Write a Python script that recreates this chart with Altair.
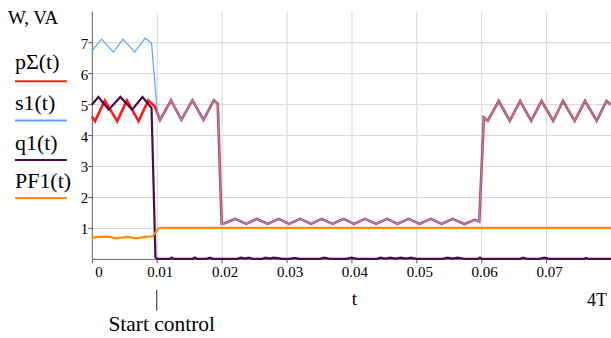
import altair as alt
import pandas as pd

# ---------------- data ----------------
p_t = [0.0000, 0.0005, 0.0020, 0.0039, 0.0054, 0.0072, 0.0087, 0.0097, 0.0105, 0.0122,
       0.0138, 0.0155, 0.0172, 0.0188, 0.0194, 0.0200, 0.0204, 0.0221, 0.0238, 0.0254,
       0.0271, 0.0288, 0.0304, 0.0321, 0.0338, 0.0354, 0.0371, 0.0388, 0.0404, 0.0421,
       0.0438, 0.0455, 0.0471, 0.0488, 0.0505, 0.0522, 0.0539, 0.0556, 0.0574, 0.0590,
       0.0597, 0.0604, 0.0610, 0.0627, 0.0644, 0.0660, 0.0677, 0.0693, 0.0711, 0.0726,
       0.0744, 0.0760, 0.0778, 0.0793, 0.0800]
p_v = [4.60, 4.45, 5.12, 4.45, 5.12, 4.45, 5.12, 4.92, 4.49, 5.12,
       4.49, 5.12, 4.49, 5.12, 5.01, 1.14, 1.14, 1.29, 1.13, 1.29,
       1.13, 1.29, 1.13, 1.29, 1.13, 1.29, 1.13, 1.29, 1.13, 1.29,
       1.13, 1.29, 1.13, 1.29, 1.13, 1.29, 1.13, 1.29, 1.12, 1.26,
       1.21, 4.56, 4.46, 5.10, 4.46, 5.10, 4.46, 5.10, 4.46, 5.10,
       4.46, 5.10, 4.46, 5.10, 4.98]

s1_t_head = [0.0000, 0.0015, 0.0033, 0.0048, 0.0066, 0.0082, 0.0092, 0.0101]
s1_v_head = [6.72, 7.10, 6.68, 7.10, 6.68, 7.13, 6.97, 4.70]

q1_t = [0.0000, 0.0010, 0.0026, 0.0044, 0.0062, 0.0078, 0.0092, 0.0098, 0.0101,
        0.0120, 0.0123, 0.0126, 0.0155, 0.0159, 0.0162, 0.0177, 0.0182, 0.0187,
        0.0224, 0.0230, 0.0236, 0.0242, 0.0248, 0.0262, 0.0268, 0.0274, 0.0280,
        0.0294, 0.0305, 0.0312, 0.0320, 0.0351, 0.0358, 0.0365, 0.0372, 0.0392,
        0.0400, 0.0408, 0.0439, 0.0445, 0.0452, 0.0460, 0.0468, 0.0476, 0.0484,
        0.0492, 0.0500, 0.0540, 0.0548, 0.0556, 0.0564, 0.0572, 0.0582, 0.0595,
        0.0598, 0.0601, 0.0660, 0.0665, 0.0670, 0.0690, 0.0697, 0.0705, 0.0759,
        0.0762, 0.0765, 0.0800]
q1_v = [4.98, 5.23, 4.82, 5.23, 4.82, 5.23, 4.87, 0.05, 0.00,
        0.00, 0.04, 0.00, 0.00, 0.04, 0.00, 0.00, 0.04, 0.00,
        0.00, 0.04, 0.01, 0.04, 0.00, 0.00, 0.04, 0.01, 0.04,
        0.00, 0.00, 0.03, 0.00, 0.00, 0.04, 0.01, 0.00, 0.00,
        0.04, 0.00, 0.00, 0.04, 0.01, 0.04, 0.01, 0.04, 0.01,
        0.04, 0.00, 0.00, 0.04, 0.01, 0.04, 0.01, 0.00, 0.00,
        0.04, 0.00, 0.00, 0.04, 0.00, 0.00, 0.04, 0.00, 0.00,
        0.03, 0.00, 0.00]

pf_t = [0.0000, 0.0010, 0.0025, 0.0038, 0.0055, 0.0068, 0.0082, 0.0094, 0.0102, 0.0105, 0.0800]
pf_v = [0.68, 0.71, 0.72, 0.66, 0.71, 0.66, 0.71, 0.73, 0.97, 1.00, 1.00]

series_names = ["pΣ(t)", "s1(t)", "q1(t)", "PF1(t)"]
series_colors = ["#ff1a1a", "#5aa6ee", "#4a0a4e", "#ff8c00"]
series_widths = [2.6, 1.2, 2.2, 2.2]

x_ticks = [0, 0.01, 0.02, 0.03, 0.04, 0.05, 0.06, 0.07]
y_ticks = [1, 2, 3, 4, 5, 6, 7]
unit_label = "W, VA"
x_title = "t"
end_label = "4T"
marker_label = "Start control"
marker_t = 0.01
end_t = 0.08

# s1 coincides with p after the control starts
s1_t = s1_t_head + [t for t in p_t if t >= 0.0105]
s1_v = s1_v_head + [v for t, v in zip(p_t, p_v) if t >= 0.0105]

series_data = {
    "pΣ(t)": (p_t, p_v),
    "s1(t)": (s1_t, s1_v),
    "q1(t)": (q1_t, q1_v),
    "PF1(t)": (pf_t, pf_v),
}

FONT = "'Liberation Serif', 'DejaVu Serif', serif"
W, H = 520, 248

xs = alt.Scale(domain=[0, end_t], nice=False, zero=False)
ys = alt.Scale(domain=[0, 8], nice=False)

x_axis = alt.Axis(values=x_ticks, grid=True, gridColor="#d6d6d6", domainColor="#666666",
                  tickColor="#555555", tickSize=4, labelPadding=2, labelOffset=3,
                  labelFont=FONT, labelFontSize=15, labelColor="#000000", title=None,
                  labelExpr="datum.value == 0 ? '0' : format(datum.value, '.2f')")
y_axis = alt.Axis(values=y_ticks, grid=True, gridColor="#d6d6d6", domainColor="#666666",
                  tickColor="#555555", tickSize=4, labelPadding=0, labelOffset=1,
                  labelFont=FONT, labelFontSize=15, labelColor="#000000", title=None,
                  format="d")

def X():
    return alt.X("t:Q", scale=xs, axis=x_axis)

def Y():
    return alt.Y("v:Q", scale=ys, axis=y_axis)

layers = []
for i, name in enumerate(series_names):
    t, v = series_data[name]
    df = pd.DataFrame({"t": t, "v": v})
    layers.append(
        alt.Chart(df).mark_line(color=series_colors[i], strokeWidth=series_widths[i])
        .encode(x=X(), y=Y())
    )

# legend on the left
legend_text_y = [58, 99, 139, 177]
legend_line_y = [70, 109.5, 149, 187]
for i, name in enumerate(series_names):
    layers.append(
        alt.Chart(pd.DataFrame({"s": [name]})).mark_text(
            font=FONT, fontSize=22, align="left", baseline="alphabetic", color="#000000"
        ).encode(x=alt.value(-77), y=alt.value(legend_text_y[i]), text="s:N")
    )
    layers.append(
        alt.Chart(pd.DataFrame({"s": [name]})).mark_rule(
            color=series_colors[i], strokeWidth=2
        ).encode(x=alt.value(-77), x2=alt.value(-25), y=alt.value(legend_line_y[i]))
    )

layers.append(
    alt.Chart(pd.DataFrame({"s": [unit_label]})).mark_text(
        font=FONT, fontSize=19, align="left", baseline="alphabetic", color="#000000"
    ).encode(x=alt.value(-84), y=alt.value(13), text="s:N")
)

# x annotations
ann = pd.DataFrame({"t": [0.04], "s": [x_title]})
layers.append(
    alt.Chart(ann).mark_text(font=FONT, fontSize=19, align="center", baseline="alphabetic",
                             color="#000000", dx=3)
    .encode(x=X(), y=alt.value(294), text="s:N")
)
ann2 = pd.DataFrame({"t": [end_t], "s": [end_label]})
layers.append(
    alt.Chart(ann2).mark_text(font=FONT, fontSize=18, align="right", baseline="alphabetic",
                              color="#000000", dx=-4)
    .encode(x=X(), y=alt.value(295), text="s:N")
)
mk = pd.DataFrame({"t": [marker_t], "s": [marker_label]})
layers.append(
    alt.Chart(mk).mark_rule(color="#222222", strokeWidth=1)
    .encode(x=X(), y=alt.value(279), y2=alt.value(300))
)
layers.append(
    alt.Chart(mk).mark_text(font=FONT, fontSize=21.5, align="center", baseline="alphabetic",
                            color="#000000", dx=5)
    .encode(x=X(), y=alt.value(320), text="s:N")
)

chart = alt.layer(*layers).properties(
    width=W, height=H,
    autosize=alt.AutoSizeParams(type="none"),
    padding={"left": 92, "top": 11, "right": 0, "bottom": 79},
    background="#ffffff",
).configure_view(stroke=None)

chart.save("out.html", embed_options={"renderer": "svg", "actions": False})
